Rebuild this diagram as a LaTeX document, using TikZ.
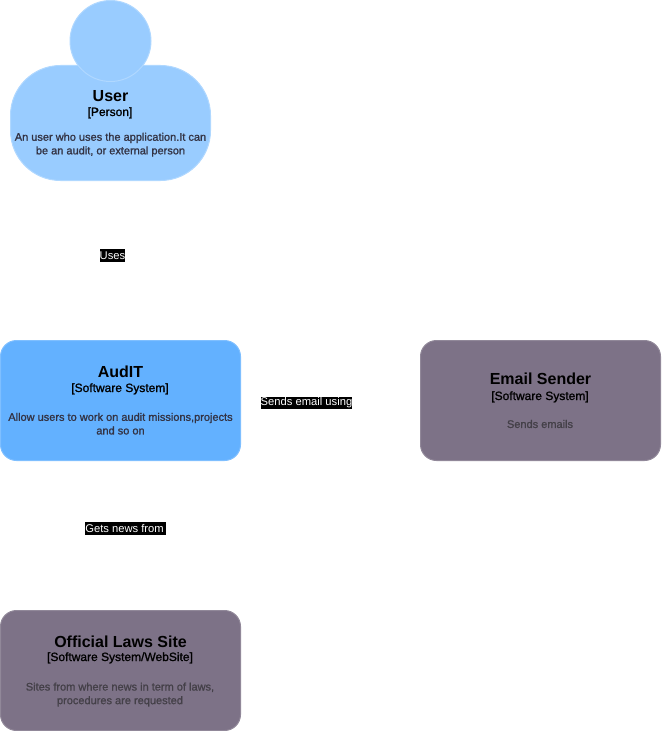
\documentclass[tikz,border=0pt]{standalone}
\usepackage{fontspec}
\setmainfont{Liberation Sans}
\newfontfamily\semibold{Liberation Sans}[FakeBold=1.2]
\definecolor{personblue}{HTML}{99CCFF}
\definecolor{personedge}{HTML}{B0D8FF}
\definecolor{systemblue}{HTML}{63B1FF}
\definecolor{systemedge}{HTML}{7FBFFF}
\definecolor{extgrey}{HTML}{7D7287}
\definecolor{extedge}{HTML}{918899}
\definecolor{desccolor}{HTML}{333344}
\definecolor{extcolor}{HTML}{444048}
\tikzset{
  titletext/.style={anchor=base, inner sep=0pt, font=\fontsize{12}{14}\selectfont\bfseries},
  typetext/.style={anchor=base, inner sep=0pt, font=\fontsize{9}{11}\semibold},
  desctext/.style={anchor=center, inner sep=0pt, align=center, font=\fontsize{8.25}{10.2}\semibold, text=desccolor},
  linklabel/.style={fill=black, text=white, inner sep=0pt, minimum height=9.5pt, font=\fontsize{8.4}{9.5}\selectfont},
}
\begin{document}
\begin{tikzpicture}[x=0.75pt,y=-0.75pt]
\useasboundingbox (0,0) rectangle (661,731);

% person
\filldraw[fill=personblue, draw=personedge, line width=0.75pt, rounded corners=37.5pt] (10.5,65.5) rectangle (210.5,180.5);
\filldraw[fill=personblue, draw=personedge, line width=0.75pt] (110.5,41) circle (40.5);
\node[titletext] (userName) at (110.5,102) {User};
\node[typetext] (userType) at (110,116) {[Person]};
\node[desctext] (userDesc) at (110.5,144.7) {An user who uses the application.It can\\be an audit, or external person};

% systems
\filldraw[fill=systemblue, draw=systemedge, line width=0.75pt, rounded corners=12pt] (0.5,340.5) rectangle (240.5,460.5);
\node[titletext] (auditName) at (120.5,377) {AudIT};
\node[typetext] (auditType) at (120,392) {[Software System]};
\node[desctext] (auditDesc) at (120.5,423.7) {Allow users to work on audit missions,projects\\and so on};

\filldraw[fill=extgrey, draw=extedge, line width=0.75pt, rounded corners=12pt] (420.5,340.5) rectangle (660.5,460.5);
\node[titletext] (emailName) at (540.5,384) {Email Sender};
\node[typetext] (emailType) at (540,400) {[Software System]};
\node[desctext, text=extcolor] (emailDesc) at (540,424) {Sends emails};

\filldraw[fill=extgrey, draw=extedge, line width=0.75pt, rounded corners=12pt] (0.5,610.5) rectangle (240.5,730.5);
\node[titletext] (lawsName) at (120.5,647) {Official Laws Site};
\node[typetext] (lawsType) at (120,661) {[Software System/WebSite]};
\node[desctext, text=extcolor] (lawsDesc) at (120,694.5) {Sites from where news in term of laws,\\procedures are requested};

% labels
\node[linklabel] (usesLabel) at (112.5,255.5) {Uses};
\node[linklabel] (emailLabel) at (306.5,403) {Sends email using};
\node[linklabel] (newsLabel) at (125.5,528.5) {Gets news from\,};
\end{tikzpicture}
\end{document}
